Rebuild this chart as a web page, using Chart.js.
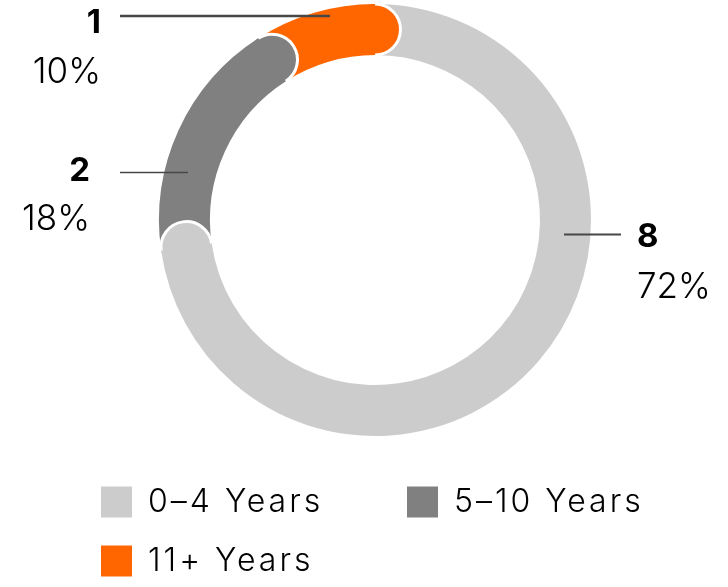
<!DOCTYPE html>
<html>
<head>
<meta charset="utf-8">
<script src="https://cdn.jsdelivr.net/npm/chart.js@4.4.0/dist/chart.umd.min.js"></script>
<style>
    html, body { margin: 0; padding: 0; background: #fff; }
    #wrap { width: 728px; height: 587px; position: relative; }
</style>
</head>
<body>
<div id="wrap"><canvas id="myChart"></canvas></div>
<script>
const labels = ['0–4 Years', '5–10 Years', '11+ Years'];
const counts = [8, 2, 1];
const percents = ['72%', '18%', '10%'];
const colors = ['#cccccc', '#808080', '#ff6600'];

const FONT = 'Inter';

// where each callout sits (same order as the data)
const callouts = [
    { lineY: 234.5, x0: 564, x1: 621, textX: 637, align: 'left', numY: 247, pctY: 298, lw: 2 },
    { lineY: 172.5, x0: 120, x1: 188, textX: 90, align: 'right', numY: 181, pctY: 230, lw: 1.5 },
    { lineY: 16, x0: 120, x1: 330, textX: 101, align: 'right', numY: 33, pctY: 83, lw: 2.5 },
];

// the legend font in the original is wide, so space the letters out a bit
const spacing = {
    id: 'spacing',
    beforeLayout(chart) {
        chart.ctx.letterSpacing = '3px';
    },
    beforeDraw(chart) {
        chart.ctx.letterSpacing = '3px';
    },
};

// rounded end on each segment, lying over the next one
const roundEnds = {
    id: 'roundEnds',
    afterDatasetsDraw(chart) {
        const ctx = chart.ctx;
        chart.getDatasetMeta(0).data.forEach((arc, i) => {
            const p = arc.getProps(['x', 'y', 'endAngle', 'innerRadius', 'outerRadius'], true);
            const w = (p.outerRadius - p.innerRadius) / 2;
            const rm = p.innerRadius + w;
            const cx = p.x + rm * Math.cos(p.endAngle);
            const cy = p.y + rm * Math.sin(p.endAngle);
            ctx.save();
            ctx.fillStyle = colors[i];
            ctx.beginPath();
            ctx.arc(cx, cy, w, 0, Math.PI * 2);
            ctx.fill();
            ctx.strokeStyle = '#fff';
            ctx.lineWidth = 3;
            ctx.beginPath();
            ctx.arc(cx, cy, w, p.endAngle, p.endAngle + Math.PI);
            ctx.stroke();
            ctx.restore();
        });
    },
};

const calloutLabels = {
    id: 'calloutLabels',
    afterDraw(chart) {
        const ctx = chart.ctx;
        callouts.forEach((c, i) => {
            ctx.save();
            ctx.letterSpacing = '0px';
            ctx.strokeStyle = '#474747';
            ctx.lineWidth = c.lw;
            ctx.beginPath();
            ctx.moveTo(c.x0, c.lineY);
            ctx.lineTo(c.x1, c.lineY);
            ctx.stroke();
            ctx.fillStyle = '#000';
            ctx.textAlign = c.align;
            ctx.textBaseline = 'alphabetic';
            ctx.font = '700 33px ' + FONT;
            ctx.fillText(String(counts[i]), c.textX, c.numY);
            ctx.font = '300 35px ' + FONT;
            ctx.fillText(percents[i], c.textX, c.pctY);
            ctx.restore();
        });
    },
};

const data = {
    labels: labels,
    datasets: [
        {
            data: counts,
            backgroundColor: colors,
            borderWidth: 0,
            radius: 216,
            cutout: '76.4%',
        },
    ],
};

const config = {
    type: 'doughnut',
    data: data,
    plugins: [spacing, roundEnds, calloutLabels],
    options: {
        responsive: true,
        maintainAspectRatio: false,
        animation: false,
        events: [],
        layout: {
            padding: { top: 0, bottom: 0, left: 74, right: 52 },
        },
        plugins: {
            tooltip: { enabled: false },
            legend: {
                position: 'bottom',
                align: 'start',
                // empty title only keeps a gap between the ring and the keys
                title: {
                    display: true,
                    text: ' ',
                    font: { size: 10 },
                    padding: { top: 7, bottom: 0 },
                },
                labels: {
                    color: '#000',
                    boxWidth: 31,
                    boxHeight: 31,
                    padding: 27,
                    font: { family: FONT, size: 32, weight: '300' },
                    generateLabels(chart) {
                        const items = Chart.overrides.doughnut.plugins.legend.labels.generateLabels(chart);
                        // wider gap after the first item, as in the original
                        items[0].text = items[0].text + '    \u2009';
                        return items;
                    },
                },
            },
        },
    },
};

var myChart = new Chart(document.getElementById('myChart'), config);
</script>
</body>
</html>
